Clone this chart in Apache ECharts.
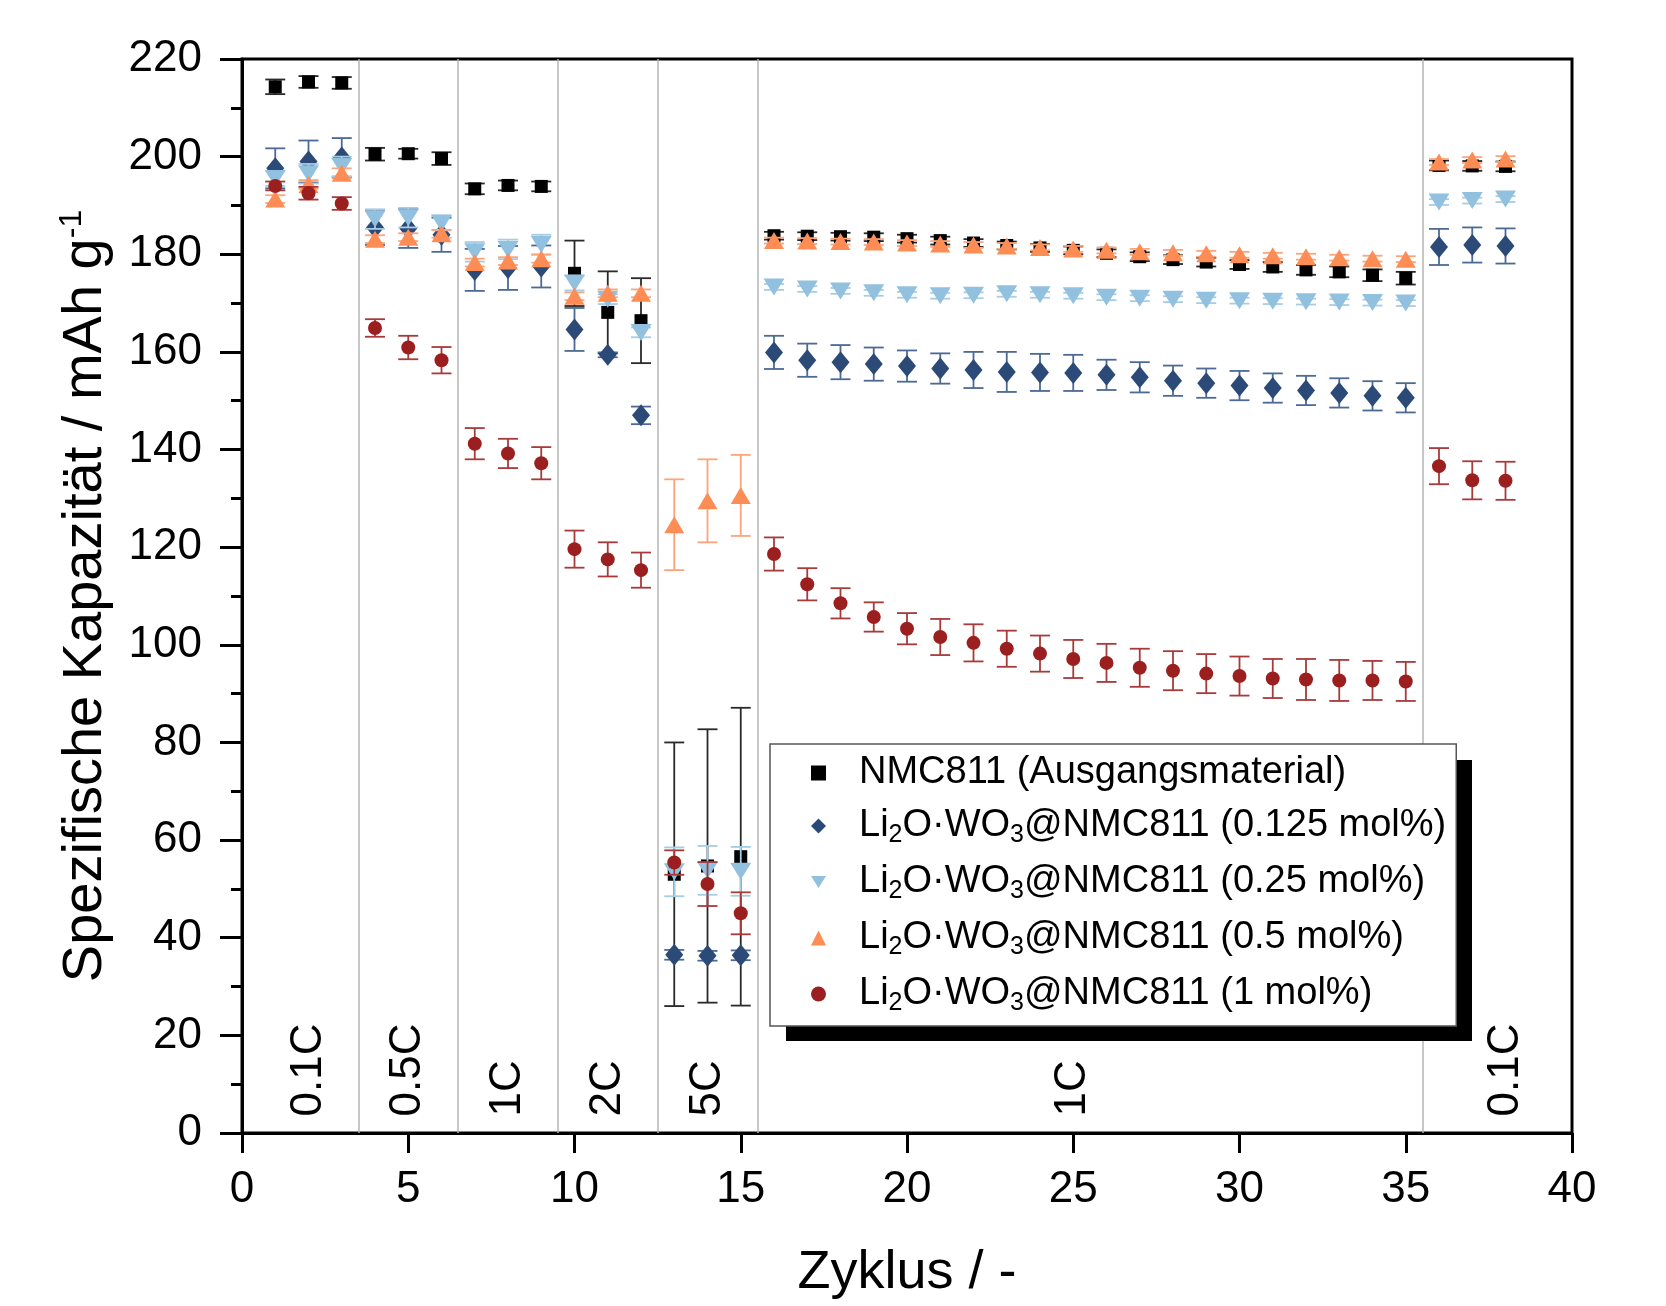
<!DOCTYPE html>
<html>
<head>
<meta charset="utf-8">
<script src="https://cdn.jsdelivr.net/npm/echarts@6/dist/echarts.min.js"></script>
<style>
html,body{margin:0;padding:0;background:#fff;}
#chart{width:1666px;height:1306px;}
</style>
</head>
<body>
<div id="chart"></div>
<script>
// ---------------- data ----------------
const cycles = [1,2,3,4,5,6,7,8,9,10,11,12,13,14,15,16,17,18,19,20,21,22,23,24,25,26,27,28,29,30,31,32,33,34,35,36,37,38];

const seriesNames = [
  'NMC811 (Ausgangsmaterial)',
  'Li2O·WO3@NMC811 (0.125 mol%)',
  'Li2O·WO3@NMC811 (0.25 mol%)',
  'Li2O·WO3@NMC811 (0.5 mol%)',
  'Li2O·WO3@NMC811 (1 mol%)'
];

const nmcVals = [214.3,215.3,215.1,200.5,200.6,199.6,193.4,194.1,193.9,176.1,168.1,166.4,53.0,54.7,56.6,
  183.8,183.7,183.6,183.5,183.2,182.8,182.3,181.8,181.3,180.8,180.2,179.5,178.9,178.4,177.9,177.4,176.8,176.4,175.7,175.1,
  198.2,198.1,198.0];
const nmcErr = [1.5,1.2,1.2,1.3,1.0,1.3,1.1,1.0,1.0,6.7,8.4,8.7,27.0,28.0,30.5,
  0.8,0.8,0.8,0.8,0.8,0.8,0.8,0.8,0.8,0.8,0.8,0.9,0.9,0.9,0.9,1.0,1.0,1.1,1.2,1.3,
  1.0,1.0,1.0];

const w0125Vals = [197.6,199.0,199.8,185.5,185.3,184.0,176.8,177.2,177.5,164.6,159.4,147.0,36.5,36.3,36.4,
  159.9,158.3,157.9,157.5,157.1,156.6,156.3,155.9,155.8,155.7,155.3,154.8,154.1,153.6,153.1,152.6,152.1,151.6,151.0,150.6,
  181.5,181.9,181.7];
const w0125Err = [4.1,4.3,4.0,3.6,4.0,3.5,4.3,4.5,4.3,4.4,0.5,1.8,1.0,1.0,1.0,
  3.4,3.4,3.5,3.4,3.2,3.1,3.7,4.1,3.8,3.7,3.1,3.1,3.1,3.0,3.0,3.0,3.0,3.0,3.0,3.0,
  3.7,3.6,3.6];

const w025Vals = [195.5,196.5,198.0,187.2,187.5,186.4,180.5,181.0,182.0,174.1,170.8,164.0,53.5,53.8,53.6,
  173.3,172.9,172.5,172.1,171.7,171.5,171.6,171.9,171.7,171.5,171.2,171.0,170.8,170.6,170.5,170.4,170.3,170.2,170.1,170.0,
  190.7,191.0,191.3];
const w025Err = [1.5,2.0,2.0,2.0,2.0,1.5,2.0,2.0,2.0,1.5,1.0,1.0,5.0,5.0,5.0,
  0.6,0.6,0.6,0.6,0.6,0.6,0.6,0.6,0.6,0.6,0.6,0.6,0.6,0.6,0.6,0.6,0.6,0.6,0.6,0.6,
  0.6,0.6,0.6];

const w05Vals = [191.3,194.3,196.6,183.1,183.5,184.2,178.3,178.6,179.1,171.4,172.0,172.0,124.6,129.5,130.6,
  182.8,182.7,182.6,182.5,182.3,182.1,181.9,181.7,181.4,181.1,180.8,180.5,180.3,180.1,179.9,179.7,179.5,179.3,179.1,179.0,
  198.9,199.3,199.5];
const w05Err = [0.8,0.9,1.0,0.8,0.8,0.8,0.8,0.8,0.8,0.8,0.8,0.8,9.3,8.5,8.3,
  0.6,0.6,0.6,0.6,0.6,0.6,0.6,0.6,0.6,0.6,0.6,0.6,0.6,0.6,0.6,0.6,0.6,0.6,0.6,0.6,
  0.6,0.6,0.6];

const w1Vals = [194.0,192.5,190.4,164.9,160.9,158.3,141.2,139.2,137.2,119.6,117.5,115.3,55.4,51.0,45.0,
  118.6,112.4,108.5,105.7,103.3,101.6,100.4,99.2,98.2,97.1,96.3,95.3,94.7,94.1,93.6,93.1,92.9,92.7,92.7,92.5,
  136.6,133.7,133.6];
const w1Err = [0.9,1.3,1.3,1.8,2.4,2.7,3.2,3.0,3.3,3.8,3.5,3.6,2.5,4.5,4.3,
  3.4,3.3,3.1,3.0,3.2,3.7,3.8,3.7,3.7,3.9,3.9,3.9,4.0,4.0,4.0,4.0,4.2,4.2,4.0,4.0,
  3.7,3.9,3.9];

const separators = [3.5, 6.5, 9.5, 12.5, 15.5, 35.5];
const rateLabels = ['0.1C','0.5C','1C','2C','5C','1C','0.1C'];
const ratePos = [2, 5, 8, 11, 14, 25, 38];
const rateY = 3.4;

const xTicks = {min: 0, max: 40, interval: 5};
const yTicks = {min: 0, max: 220, interval: 20};

// ---------------- styles ----------------
const FONT = 'Liberation Sans, Arial, sans-serif';
const styles = [
  {symbol: 'rect', size: [13,13], color: '#000000', err: '#2a2a2a'},
  {symbol: 'diamond', size: [18,22], color: '#2c4a77', err: '#4c6a94'},
  {symbol: 'path://M0,0L20,0L10,16Z', size: [21,17], color: '#92c0df', err: '#a6cde6'},
  {symbol: 'triangle', size: [20,17], color: '#fd8c55', err: '#fda47a'},
  {symbol: 'circle', size: [14,14], color: '#9b1f1f', err: '#a83a3a'}
];
const allVals = [nmcVals, w0125Vals, w025Vals, w05Vals, w1Vals];
const allErr = [nmcErr, w0125Err, w025Err, w05Err, w1Err];

function errSeries(i) {
  const vals = allVals[i], errs = allErr[i], color = styles[i].err;
  return {
    type: 'custom',
    name: seriesNames[i] + ' err',
    z: 2 + i * 2,
    silent: true,
    data: cycles.map((c, k) => [c, vals[k] - errs[k], vals[k] + errs[k]]),
    encode: {x: 0, y: [1, 2]},
    renderItem: function (params, api) {
      const x = api.value(0);
      const lo = api.coord([x, api.value(1)]);
      const hi = api.coord([x, api.value(2)]);
      const w = 10;
      const st = {stroke: color, lineWidth: 1.8};
      return {
        type: 'group',
        children: [
          {type: 'line', shape: {x1: lo[0], y1: lo[1], x2: hi[0], y2: hi[1]}, style: st},
          {type: 'line', shape: {x1: lo[0] - w, y1: lo[1], x2: lo[0] + w, y2: lo[1]}, style: st},
          {type: 'line', shape: {x1: hi[0] - w, y1: hi[1], x2: hi[0] + w, y2: hi[1]}, style: st}
        ]
      };
    }
  };
}

function scatterSeries(i) {
  const s = styles[i];
  return {
    type: 'scatter',
    name: seriesNames[i],
    z: 3 + i * 2,
    symbol: s.symbol,
    symbolSize: s.size,
    itemStyle: {color: s.color, opacity: 1},
    data: cycles.map((c, k) => [c, allVals[i][k]])
  };
}

const series = [];
for (let i = 0; i < 5; i++) { series.push(errSeries(i)); series.push(scatterSeries(i)); }

// separators
series.push({
  type: 'scatter', name: 'separators', data: [], z: 1, silent: true,
  markLine: {
    silent: true, symbol: ['none', 'none'], label: {show: false},
    lineStyle: {color: '#b4b4b4', width: 1.5, type: 'solid'},
    data: separators.map(v => ({xAxis: v}))
  }
});

// rate labels
series.push({
  type: 'scatter', name: 'rates', z: 1, silent: true,
  symbolSize: 0,
  itemStyle: {color: '#000', opacity: 1},
  data: ratePos.map((x, k) => ({name: rateLabels[k], value: [x, rateY]})),
  label: {
    show: true, position: 'inside', rotate: 90, align: 'left', verticalAlign: 'middle',
    formatter: p => p.name, fontSize: 44, fontFamily: FONT, color: '#000',
    textBorderWidth: 0, opacity: 1
  },
  labelLayout: {hideOverlap: false}
});

function legendFmt(name) {
  if (name.indexOf('Li2O') === 0) {
    const rest = name.replace('Li2O·WO3', '');
    return '{n|Li}{s|2}{n|O·WO}{s|3}{n|' + rest + '}';
  }
  return '{n|' + name + '}';
}

const option = {
  backgroundColor: '#ffffff',
  animation: false,
  grid: {left: 242, right: 94, top: 59, bottom: 173, show: true, borderColor: '#000', borderWidth: 3, backgroundColor: 'transparent'},
  xAxis: {
    type: 'value', min: xTicks.min, max: xTicks.max, interval: xTicks.interval,
    name: 'Zyklus / -', nameLocation: 'middle', nameGap: 113,
    nameTextStyle: {fontSize: 54, fontFamily: FONT, color: '#000'},
    axisLine: {show: true, onZero: false, lineStyle: {color: '#000', width: 3}},
    axisTick: {show: true, inside: false, length: 20, lineStyle: {color: '#000', width: 3}},
    minorTick: {show: false},
    splitLine: {show: false},
    axisLabel: {fontSize: 44, fontFamily: FONT, color: '#000', margin: 35}
  },
  yAxis: {
    type: 'value', min: yTicks.min, max: yTicks.max, interval: yTicks.interval,
    name: '{a|Spezifische Kapazität / mAh g}{sup|-1}', nameLocation: 'middle', nameGap: 126, nameRotate: 90,
    nameTextStyle: {
      fontSize: 56, fontFamily: FONT, color: '#000',
      rich: {
        a: {fontSize: 56, fontFamily: FONT, color: '#000', lineHeight: 60},
        sup: {fontSize: 32, fontFamily: FONT, color: '#000', verticalAlign: 'top', lineHeight: 34}
      }
    },
    axisLine: {show: true, onZero: false, lineStyle: {color: '#000', width: 3}},
    axisTick: {show: true, inside: false, length: 22, lineStyle: {color: '#000', width: 3}},
    minorTick: {show: true, splitNumber: 2, length: 11, lineStyle: {color: '#000', width: 3}},
    splitLine: {show: false},
    axisLabel: {fontSize: 44, fontFamily: FONT, color: '#000', margin: 40}
  },
  graphic: [{
    type: 'rect', z: 19, silent: true,
    left: 786, top: 760,
    shape: {width: 686, height: 281},
    style: {fill: '#000'}
  }],
  legend: {
    z: 20,
    data: seriesNames,
    orient: 'vertical',
    left: 770, top: 744,
    padding: [10, 10, 10, 41],
    itemGap: 15,
    itemWidth: 15, itemHeight: 15,
    backgroundColor: '#ffffff',
    borderColor: '#555',
    borderWidth: 1.5,
    selectedMode: false,
    formatter: legendFmt,
    textStyle: {
      fontSize: 38, fontFamily: FONT, color: '#000', padding: [0, 0, 0, 28],
      rich: {
        n: {fontSize: 38, fontFamily: FONT, color: '#000', lineHeight: 44},
        s: {fontSize: 25, fontFamily: FONT, color: '#000', lineHeight: 22, verticalAlign: 'bottom'}
      }
    }
  },
  series: series
};

const chart = echarts.init(document.getElementById('chart'), null, {renderer: 'canvas'});
chart.setOption(option);
</script>
</body>
</html>
